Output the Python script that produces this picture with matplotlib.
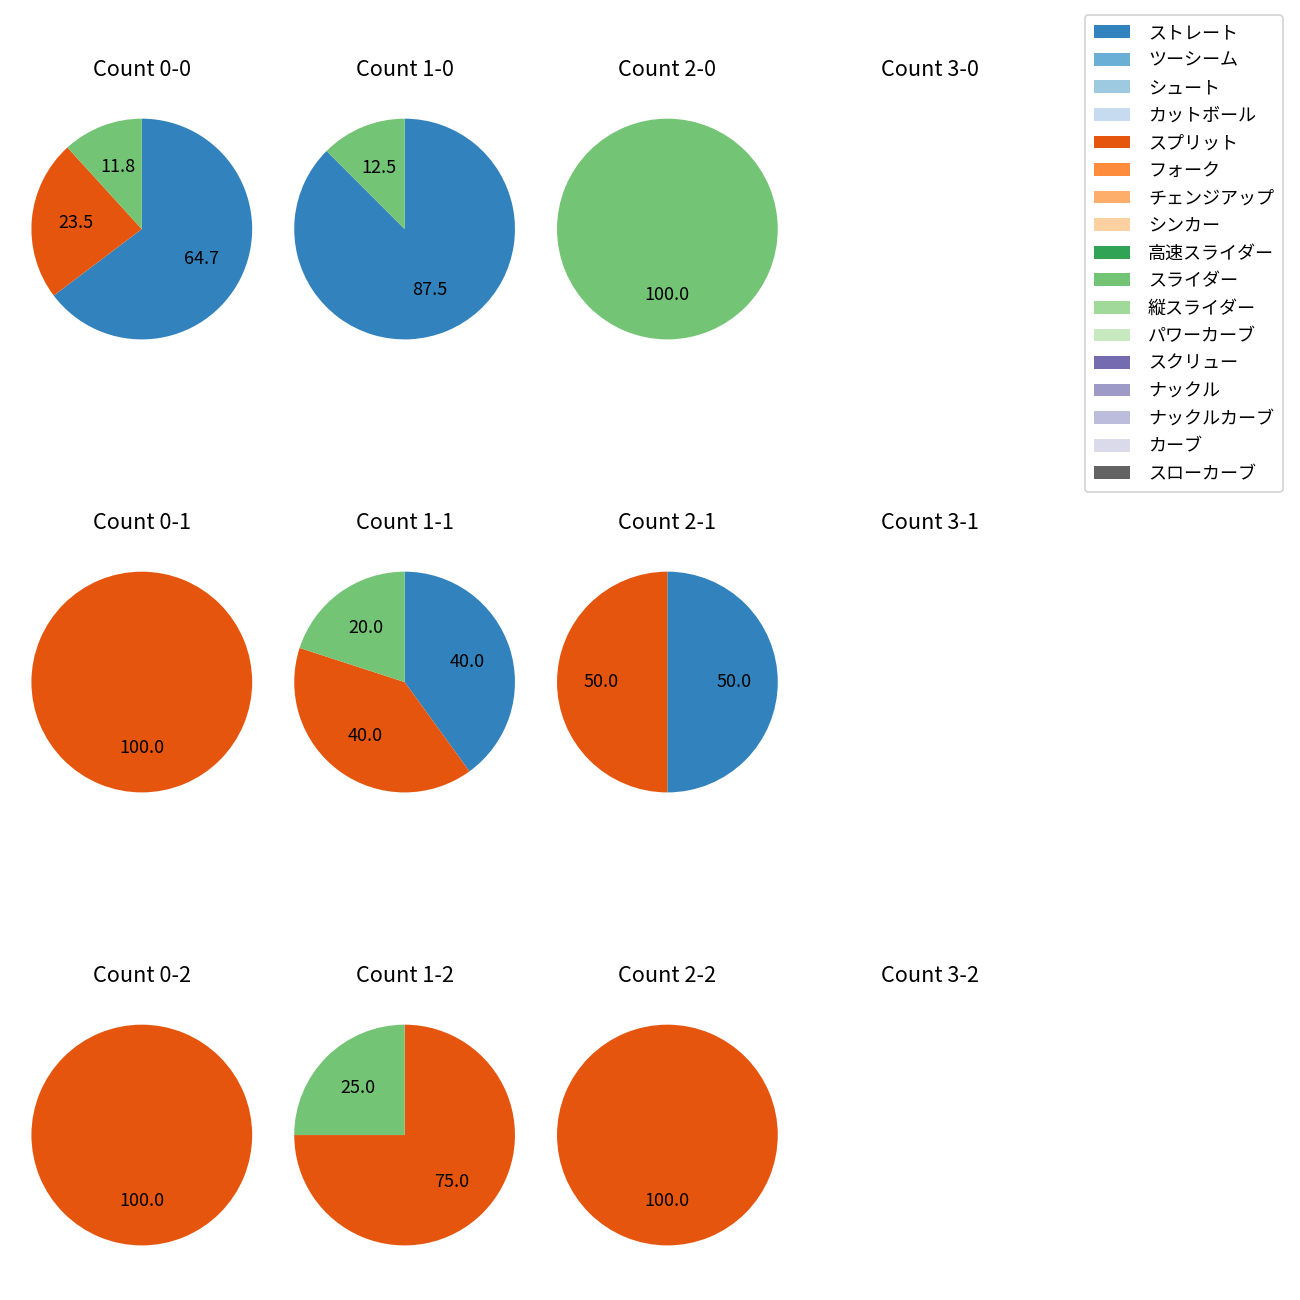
import matplotlib
matplotlib.use('Agg')
import matplotlib.pyplot as plt
from matplotlib.patches import Patch
import numpy as np

plt.rcParams['font.family'] = ['Noto Sans CJK JP', 'DejaVu Sans']

pitch_types = ['ストレート', 'ツーシーム', 'シュート', 'カットボール', 'スプリット', 'フォーク',
               'チェンジアップ', 'シンカー', '高速スライダー', 'スライダー', '縦スライダー',
               'パワーカーブ', 'スクリュー', 'ナックル', 'ナックルカーブ', 'カーブ', 'スローカーブ']

# pitch counts per ball-strike count (order follows pitch_types)
counts = {
    '0-0': {'ストレート': 11, 'スプリット': 4, 'スライダー': 2},
    '1-0': {'ストレート': 7, 'スライダー': 1},
    '2-0': {'スライダー': 1},
    '3-0': {},
    '0-1': {'スプリット': 1},
    '1-1': {'ストレート': 2, 'スプリット': 2, 'スライダー': 1},
    '2-1': {'ストレート': 1, 'スプリット': 1},
    '3-1': {},
    '0-2': {'スプリット': 1},
    '1-2': {'スプリット': 3, 'スライダー': 1},
    '2-2': {'スプリット': 1},
    '3-2': {},
}

colors = plt.get_cmap('tab20c').colors[:17]
color_map = dict(zip(pitch_types, colors))

fig, axes = plt.subplots(3, 4, figsize=(10, 10))
fig.subplots_adjust(left=0.008, right=0.8166, top=0.9392, bottom=0.0115,
                    wspace=0.0, hspace=0.51)

for ax, (label, d) in zip(axes.flat, counts.items()):
    names = [p for p in pitch_types if d.get(p, 0) > 0]
    vals = [d[p] for p in names]
    if vals:
        ax.pie(vals, colors=[color_map[p] for p in names], startangle=90,
               counterclock=False, autopct='%.1f', radius=1.05)
    else:
        ax.axis('off')
        ax.set_aspect('equal')
        ax.set_xlim(-1.25, 1.25)
        ax.set_ylim(-1.25, 1.25)
    ax.set_title('Count ' + label, fontsize=12, pad=12)

handles = [Patch(facecolor=color_map[p], label=p) for p in pitch_types]
fig.legend(handles=handles, loc='upper right', bbox_to_anchor=(0.987, 0.9885),
           borderaxespad=0, labelspacing=0.53, handletextpad=1.0,
           borderpad=0.5)

fig.savefig('out.png', dpi=130)
